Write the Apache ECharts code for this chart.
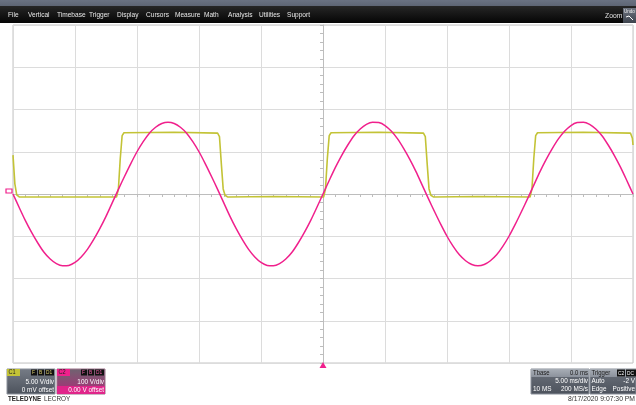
<!DOCTYPE html>
<html><head><meta charset="utf-8">
<script src="https://cdn.jsdelivr.net/npm/echarts@6/dist/echarts.min.js"></script>
<style>html,body{margin:0;padding:0;background:#fff;overflow:hidden}#c{width:636px;height:405px}</style>
</head><body><div id="c"></div>
<script>
// ---- data ----
// C2: sine trace, time in ms, volts
const timeMs = [-25,-24.5,-24,-23.5,-23,-22.5,-22,-21.5,-21,-20.5,-20,-19.5,-19,-18.5,-18,-17.5,-17,-16.5,-16,-15.5,-15,-14.5,-14,-13.5,-13,-12.5,-12,-11.5,-11,-10.5,-10,-9.5,-9,-8.5,-8,-7.5,-7,-6.5,-6,-5.5,-5,-4.5,-4,-3.5,-3,-2.5,-2,-1.5,-1,-0.5,0,0.5,1,1.5,2,2.5,3,3.5,4,4.5,5,5.5,6,6.5,7,7.5,8,8.5,9,9.5,10,10.5,11,11.5,12,12.5,13,13.5,14,14.5,15,15.5,16,16.5,17,17.5,18,18.5,19,19.5,20,20.5,21,21.5,22,22.5,23,23.5,24,24.5,25];
const c2Volts = [0,-32,-63,-91,-116,-138,-154,-165,-170,-169,-162,-149,-131,-108,-82,-53,-21,11,42,72,100,124,144,158,167,170,167,158,144,124,100,72,42,11,-21,-53,-82,-108,-131,-149,-162,-169,-170,-165,-154,-138,-116,-91,-63,-32,0,32,63,91,116,138,154,165,170,169,162,149,131,108,82,53,21,-11,-42,-72,-100,-124,-144,-158,-167,-170,-167,-158,-144,-124,-100,-72,-42,-11,21,53,82,108,131,149,162,169,170,165,154,138,116,91,63,32,0];
// C1: square trace, time in ms, volts
const c1Time = [-25,-24.85,-24.7,-24.5,-16.65,-16.5,-16.35,-16.2,-16.05,-12,-8.5,-8.35,-8.2,-8.05,-7.9,-7.7,-4,0.05,0.2,0.35,0.5,0.65,4.5,8.1,8.25,8.4,8.55,8.7,8.9,12.5,16.7,16.85,17,17.15,17.3,21,24.8,24.95,25];
const c1Volts = [4.6,1.2,-0.1,-0.35,-0.35,0.6,4.2,6.9,7.25,7.3,7.2,6.8,3.6,0.6,-0.15,-0.35,-0.3,-0.35,0.6,4.2,6.9,7.25,7.3,7.2,6.8,3.6,0.6,-0.15,-0.35,-0.3,-0.35,0.6,4.2,6.9,7.25,7.3,7.2,6.6,5.8];
// texts
const menuItems = ['File','Vertical','Timebase','Trigger','Display','Cursors','Measure','Math','Analysis','Utilities','Support'];
const c1Info = ['C1','5.00 V/div','0 mV offset'];
const c2Info = ['C2','100 V/div','0.00 V offset'];
const tbaseInfo = ['Tbase','0.0 ms','5.00 ms/div','10 MS','200 MS/s'];
const trigInfo = ['Trigger','C2','DC','Auto','-2 V','Edge','Positive'];
const dateText = '8/17/2020 9:07:30 PM';

// ---- layout / styles ----
const YEL = '#c3c336', MAG = '#f0208c';
const UIF = "'Liberation Sans',Arial,sans-serif";
const menuX = [8,28,57,89,117,146,175,204,228,259,287];

function txt(x, y, s, opt) {
  opt = opt || {};
  return {type:'text', x:x, y:y, z:opt.z||20, scaleX:(opt.sx||0.8), scaleY:1,
    style:{text:s, fill:opt.fill||'#fff',
    font:(opt.weight||'normal')+' '+(opt.size||8)+'px '+(opt.family||UIF),
    align:opt.align||'left', verticalAlign:'middle'}};
}
function rect(x, y, w, h, fill, stroke, z) {
  return {type:'rect', z:z||10, shape:{x:x,y:y,width:w,height:h}, style:{fill:fill, stroke:stroke||null, lineWidth:stroke?1:0}};
}
function grad(c0, c1) {
  return new echarts.graphic.LinearGradient(0,0,0,1,[{offset:0,color:c0},{offset:1,color:c1}]);
}

const g = [];
// menu bar
g.push(rect(0,0,636,23, grad('#6a7282','#3a404c')));
g.push(rect(0,6,636,17, grad('#262626','#050505')));
menuItems.forEach((m,i)=>g.push(txt(menuX[i],15,m,{fill:'#e8e8e8',size:8,sx:0.82})));
g.push(txt(605,15.5,'Zoom',{fill:'#e0e0e0',size:8,sx:0.85}));
g.push(rect(623,8,13,15, grad('#6e7480','#3e444e')));
g.push(txt(624,12,'Undo',{fill:'#f0f0f0',size:5,sx:0.9}));
g.push({type:'polyline', z:21, shape:{points:[[633,20],[629,16],[626,17]]}, style:{stroke:'#fff',lineWidth:1,fill:null}});

// C1 box
g.push(rect(7,369,48,25, grad('#767c86','#4c525c'), '#8a909a'));
g.push(rect(7,369,13,7, YEL));
g.push(txt(8.5,372.5,c1Info[0],{fill:'#222',size:7}));
[['F',31],['B',38],['D1',45]].forEach(a=>{g.push(rect(a[1],369.5,a[0].length>1?9:6,6,'#111',null,21)); g.push(txt(a[1]+1,372.5,a[0],{fill:'#ddd070',size:6,z:22}));});
g.push(txt(54,381.5,c1Info[1],{align:'right',size:8}));
g.push(txt(54,389.5,c1Info[2],{align:'right',size:8}));
// C2 box
g.push(rect(57,369,48,25, grad('#6e6470','#b02a78'), '#9a7088'));
g.push(rect(57,386,48,8, '#e0258a',null,11));
g.push(rect(57,369,13,7, MAG,null,12));
g.push(txt(58.5,372.5,c2Info[0],{fill:'#222',size:7}));
[['F',81],['B',88],['D1',95]].forEach(a=>{g.push(rect(a[1],369.5,a[0].length>1?9:6,6,'#111',null,21)); g.push(txt(a[1]+1,372.5,a[0],{fill:'#f060a8',size:6,z:22}));});
g.push(txt(104,381.5,c2Info[1],{align:'right',size:8}));
g.push(txt(104,389.5,c2Info[2],{align:'right',size:8}));
// brand
g.push(txt(8,398.5,'TELEDYNE',{fill:'#222',size:8,weight:'bold',sx:0.78}));
g.push(txt(44,398.5,'LECROY',{fill:'#333',size:8,sx:0.8}));
// Tbase box
g.push(rect(531,369,58,25, grad('#6c727c','#4c525c'), '#8a909a'));
g.push(rect(531,369,58,8, grad('#a8aeb6','#8c929c'),null,11));
g.push(txt(533,373,tbaseInfo[0],{fill:'#1a1a1a',size:7.5}));
g.push(txt(588,373,tbaseInfo[1],{fill:'#1a1a1a',size:7.5,align:'right'}));
g.push(txt(588,381,tbaseInfo[2],{align:'right',size:8}));
g.push(txt(533,389,tbaseInfo[3],{size:8}));
g.push(txt(588,389,tbaseInfo[4],{align:'right',size:8}));
// Trigger box
g.push(rect(590,369,46,25, grad('#6c727c','#4c525c'), '#8a909a'));
g.push(rect(590,369,46,8, grad('#a8aeb6','#8c929c'),null,11));
g.push(txt(591.5,373,trigInfo[0],{fill:'#1a1a1a',size:7.5}));
g.push(rect(617,369.5,8,7,'#111',null,21)); g.push(txt(618,373,trigInfo[1],{size:6,z:22}));
g.push(rect(626,369.5,10,7,'#111',null,21)); g.push(txt(627,373,trigInfo[2],{size:6,z:22}));
g.push(txt(591.5,381,trigInfo[3],{size:8}));
g.push(txt(635,381,trigInfo[4],{align:'right',size:8}));
g.push(txt(591.5,389,trigInfo[5],{size:8}));
g.push(txt(635,389,trigInfo[6],{align:'right',size:8}));
// date
g.push(txt(635,399,dateText,{fill:'#333',size:8,align:'right',sx:0.85}));

const GRID = '#dcdcdc', AX = '#bdbdbd';
const chart = echarts.init(document.getElementById('c'), null, {renderer:'canvas'});
chart.setOption({
  animation:false,
  backgroundColor:'#ffffff',
  grid:{left:13, top:25, right:3, bottom:42, show:true, borderColor:'#c4c4c4', borderWidth:1, backgroundColor:'#fff'},
  xAxis:{type:'value', min:-25, max:25, interval:5,
    axisLine:{show:true, onZero:true, lineStyle:{color:AX,width:1}},
    axisTick:{show:true, length:3, inside:false, lineStyle:{color:AX}},
    minorTick:{show:true, splitNumber:5, length:3, lineStyle:{color:AX}},
    axisLabel:{show:false},
    splitLine:{show:true, lineStyle:{color:GRID,width:1}}},
  yAxis:[
    {type:'value', min:-20, max:20, interval:5,
      axisLine:{show:true, onZero:true, lineStyle:{color:AX,width:1}},
      axisTick:{show:true, length:3, inside:false, lineStyle:{color:AX}},
      minorTick:{show:true, splitNumber:5, length:3, lineStyle:{color:AX}},
      axisLabel:{show:false},
      splitLine:{show:true, lineStyle:{color:GRID,width:1}}},
    {type:'value', min:-400, max:400, interval:100, show:false, splitLine:{show:false}}
  ],
  series:[
    {name:'C1', type:'line', yAxisIndex:0, data:c1Time.map((t,i)=>[t,c1Volts[i]]),
      showSymbol:false, symbol:'none', lineStyle:{color:YEL,width:1.6}, z:3},
    {name:'C2', type:'line', yAxisIndex:1, data:timeMs.map((t,i)=>[t,c2Volts[i]]),
      showSymbol:false, symbol:'none', smooth:0.3, lineStyle:{color:MAG,width:1.5}, z:4,
      markPoint:{symbol:'triangle', symbolSize:[7,6], silent:true, animation:false,
        itemStyle:{color:MAG}, label:{show:false},
        data:[{coord:[0,-400], symbolOffset:[0,2]},
              {coord:[-25,0], symbol:'rect', symbolSize:[6,4], symbolOffset:[-4,-3], itemStyle:{color:'#fff', borderColor:MAG, borderWidth:1}}]}}
  ],
  graphic:g
});
</script>
</body></html>
